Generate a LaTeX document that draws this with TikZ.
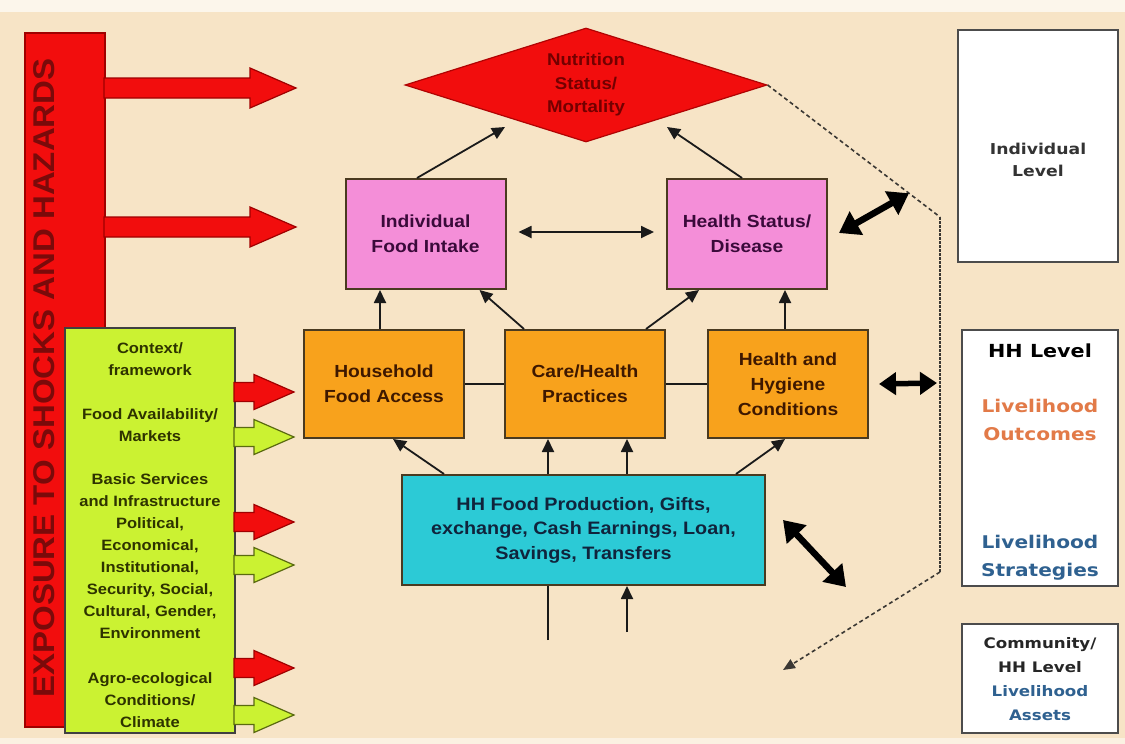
\documentclass[tikz,border=0pt]{standalone}
\usepackage{fontspec}
\setmainfont{Liberation Sans}[FakeStretch=1.1]
\newfontfamily\rfont{DejaVu Sans}[FakeStretch=1.15]
\usetikzlibrary{shapes.geometric,arrows.meta,calc}
\definecolor{bgc}{HTML}{F7E4C6}
\definecolor{redf}{HTML}{F20D0D}
\definecolor{redd}{HTML}{A00000}
\definecolor{exptext}{HTML}{7A0A0A}
\definecolor{limef}{HTML}{CBF232}
\definecolor{limed}{HTML}{5A6A10}
\definecolor{limetext}{HTML}{2E3300}
\definecolor{pinkf}{HTML}{F48ED8}
\definecolor{pinktext}{HTML}{3A0A3A}
\definecolor{orangef}{HTML}{F8A21C}
\definecolor{orangetext}{HTML}{3E1800}
\definecolor{tealf}{HTML}{2CCAD6}
\definecolor{tealtext}{HTML}{10243C}
\definecolor{outc}{HTML}{E27A48}
\definecolor{stratc}{HTML}{2F6190}
\definecolor{boxd}{HTML}{4A3A20}
\definecolor{lined}{HTML}{1A1A1A}

% block arrow: fill, draw, y centre, x start, x tip, shaft half, head half, head length
\newcommand{\blockarr}[8]{%
  \filldraw[fill=#1,draw=#2,line width=1.2pt,line join=miter]
    (#4,#3-#6) -- (#5-#8,#3-#6) -- (#5-#8,#3-#7) -- (#5,#3) --
    (#5-#8,#3+#7) -- (#5-#8,#3+#6) -- (#4,#3+#6) -- cycle;}

\tikzset{
  every node/.style={inner sep=0pt, align=center},
  gt/.style={text=limetext, font=\fontsize{15}{21.9}\selectfont\bfseries},
  pbox/.style={draw=boxd, fill=pinkf, line width=2pt, minimum width=160, minimum height=110,
    text=pinktext, font=\fontsize{17.5}{25}\selectfont\bfseries},
  obox/.style={draw=boxd, fill=orangef, line width=2pt, minimum width=160, minimum height=108,
    text=orangetext, font=\fontsize{17.5}{25}\selectfont\bfseries},
  tbox/.style={draw=boxd, fill=tealf, line width=2pt, minimum width=363, minimum height=110,
    text=tealtext, font=\fontsize{18}{24.5}\selectfont\bfseries},
  rbox/.style={draw=black!70, fill=white, line width=2pt},
  arr/.style={-{Triangle[length=13pt,width=12pt]}, line width=1.8pt, draw=lined},
  arrboth/.style={{Triangle[length=13pt,width=12pt]}-{Triangle[length=13pt,width=12pt]}, line width=1.8pt, draw=lined},
  fat/.style={{Triangle[length=20pt,width=26pt]}-{Triangle[length=20pt,width=26pt]}, line width=6.5pt, draw=black},
  fatsmall/.style={{Triangle[length=17pt,width=22pt]}-{Triangle[length=17pt,width=22pt]}, line width=5.5pt, draw=black},
  dashline/.style={line width=1.6pt, draw=lined!85!bgc, dash pattern=on 4pt off 3pt},
}

\begin{document}
\begin{tikzpicture}[x=1pt,y=-1pt]
\useasboundingbox (0,0) rectangle (1125,744);
\fill[bgc] (0,0) rectangle (1125,744);
\fill[bgc!35!white] (0,0) rectangle (1125,12);
\fill[bgc!50!white] (0,738) rectangle (1125,744);

% exposure bar
\node[draw=redd, fill=redf, line width=1.5pt, minimum width=80, minimum height=694] (bar) at (65,380) {};
\node[rotate=90, text=exptext, font=\fontsize{30}{30}\selectfont\bfseries] (exp) at (44,378) {EXPOSURE TO SHOCKS AND HAZARDS};

\blockarr{redf}{redd}{88}{104}{296}{10}{20}{46}
\blockarr{redf}{redd}{227}{104}{296}{10}{20}{46}

% context box
\node[draw=black!75, fill=limef, line width=1.5pt, minimum width=170, minimum height=405] (ctx) at (150,530.5) {};
\node[gt] (t1) at (150,359) {Context/\\framework};
\node[gt] (t2) at (150,425) {Food Availability/\\Markets};
\node[gt] (t3) at (150,556) {Basic Services\\and Infrastructure\\Political,\\Economical,\\Institutional,\\Security, Social,\\Cultural, Gender,\\Environment};
\node[gt] (t4) at (150,700) {Agro-ecological\\Conditions/\\Climate};

\blockarr{redf}{redd}{392}{234}{294}{9.5}{17.5}{40}
\blockarr{limef}{limed}{437}{234}{294}{9.5}{17.5}{40}
\blockarr{redf}{redd}{522}{234}{294}{9.5}{17.5}{40}
\blockarr{limef}{limed}{565}{234}{294}{9.5}{17.5}{40}
\blockarr{redf}{redd}{668}{234}{294}{9.5}{17.5}{40}
\blockarr{limef}{limed}{715}{234}{294}{9.5}{17.5}{40}

% nutrition diamond
\node[diamond, shape aspect=3.175, draw=redd!80!redf, fill=redf, line width=1.2pt,
  minimum width=362, minimum height=114, text=red!45!black,
  font=\fontsize{17}{23.5}\selectfont\bfseries] (nut) at (586,85) {Nutrition\\Status/\\Mortality};

% individual level boxes
\node[pbox] (ifi) at (425.5,234) {Individual\\Food Intake};
\node[pbox] (hsd) at (747,234) {Health Status/\\Disease};

% household boxes
\node[obox] (hfa) at (384,384) {Household\\Food Access};
\node[obox] (chp) at (585,384) {Care/Health\\Practices};
\node[obox] (hhc) at (788,384) {Health and\\Hygiene\\Conditions};

% production box
\node[tbox] (prod) at (583.5,530) {HH Food Production, Gifts,\\exchange, Cash Earnings, Loan,\\Savings, Transfers};

% right level boxes
\node[rbox, minimum width=160, minimum height=232] (ind) at (1038,146) {};
\node[text=black!80, font=\rfont\bfseries\fontsize{15}{22}\selectfont] (indt) at (1038,160) {Individual\\Level};
\node[rbox, minimum width=156, minimum height=256] (hhl) at (1040,458) {};
\node[text=black, font=\rfont\bfseries\fontsize{18}{24}\selectfont] (hht) at (1040,351) {HH Level};
\node[text=outc, font=\rfont\bfseries\fontsize{17.5}{28}\selectfont] (outt) at (1040,420) {Livelihood\\Outcomes};
\node[text=stratc, font=\rfont\bfseries\fontsize{17.5}{28}\selectfont] (strt) at (1040,558) {Livelihood\\Strategies};
\node[rbox, minimum width=156, minimum height=109] (com) at (1040,678.5) {};
\node[text=black!85, font=\rfont\bfseries\fontsize{14.5}{24}\selectfont] (comt) at (1040,679) {Community/\\HH Level\\\textcolor{stratc}{Livelihood}\\\textcolor{stratc}{Assets}};

% coordinates
\coordinate (ta) at (505,127);
\coordinate (tb) at (667,127);
\coordinate (dB) at (940,217);
\coordinate (dC) at (940,572);
\coordinate (dD) at (783,670);
\coordinate (htip) at ($(nut.east)!0.82!(dB)$);
\coordinate (dHH) at (937,383);
\coordinate (ftip) at (846,587);
\coordinate (in1) at (548,640);
\coordinate (in2) at (627,632);

% dashed level link
\draw[dashline] (nut.east) -- (dB);
\draw[dashline, dash pattern=on 2.5pt off 1.5pt] (dB) -- (dC);
\draw[dashline, -{Triangle[length=12pt,width=10pt]}] (dC) -- (dD);

% arrows to nutrition
\draw[arr] ([xshift=-8.5]ifi.north) -- (ta);
\draw[arr] ([xshift=-5]hsd.north) -- (tb);
\draw[arrboth] ([xshift=12,yshift=2]ifi.east) -- ([xshift=-12,yshift=2]hsd.west);
\draw[fat] ([xshift=11,yshift=1]hsd.east) -- (htip);

% household to individual
\draw[arr] ([xshift=-4]hfa.north) -- ([xshift=-4]hfa.north |- ifi.south);
\draw[arr] ([xshift=20]chp.north west) -- ([xshift=-27]ifi.south east);
\draw[arr] ([xshift=-20]chp.north east) -- ([xshift=33]hsd.south west);
\draw[arr] ([xshift=-3]hhc.north) -- ([xshift=-3]hhc.north |- hsd.south);
\draw[line width=1.8pt, draw=lined] (hfa.east) -- (chp.west);
\draw[line width=1.8pt, draw=lined] (chp.east) -- (hhc.west);
\draw[fatsmall] ([xshift=10]hhc.east) -- (dHH);

% production to household
\draw[arr] ([xshift=43]prod.north west) -- ([xshift=9]hfa.south);
\draw[arr] ([xshift=-35.5]prod.north) -- ([xshift=-35.5]prod.north |- chp.south);
\draw[arr] ([xshift=43.5]prod.north) -- ([xshift=43.5]prod.north |- chp.south);
\draw[arr] ([xshift=-30]prod.north east) -- ([xshift=-3]hhc.south);
\draw[fat] ([xshift=17,yshift=10]prod.east) -- (ftip);
\draw[line width=1.8pt, draw=lined] (in1) -- (in1 |- prod.south);
\draw[arr] (in2) -- (in2 |- prod.south);
\end{tikzpicture}
\end{document}
